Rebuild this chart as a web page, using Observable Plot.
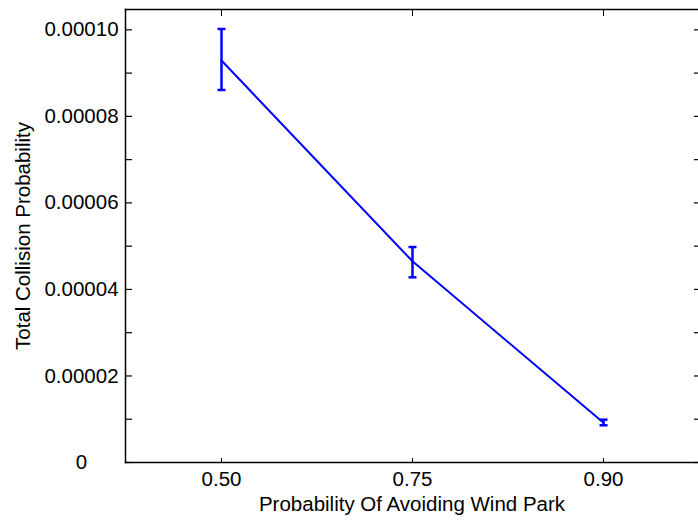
<!DOCTYPE html>
<html>
<head>
<meta charset="utf-8">
<script src="https://cdn.jsdelivr.net/npm/d3@7"></script>
<script src="https://cdn.jsdelivr.net/npm/@observablehq/plot@0.6"></script>
<style>
  html, body { margin: 0; padding: 0; background: #fff; }
  #chart svg { display: block; }
</style>
</head>
<body>
<div id="chart"></div>
<script>
// Categories (x) and series values
const avoid = ["0.50", "0.75", "0.90"];
const meanProb = [9.29e-5, 4.65e-5, 9.2e-6];
const lowerProb = [8.61e-5, 4.28e-5, 8.6e-6];
const upperProb = [1.002e-4, 4.98e-5, 9.9e-6];

// Tick values and labels
const yMajorTicks = [0, 2e-5, 4e-5, 6e-5, 8e-5, 1e-4];
const yTickLabels = ["0", "0.00002", "0.00004", "0.00006", "0.00008", "0.00010"];
const yAllTicks = [0, 1e-5, 2e-5, 3e-5, 4e-5, 5e-5, 6e-5, 7e-5, 8e-5, 9e-5, 1e-4];
const yMax = 1.047e-4;

const xTitle = "Probability Of Avoiding Wind Park";
const yTitle = "Total Collision Probability";

const data = avoid.map((a, i) => ({a, m: meanProb[i], lo: lowerProb[i], hi: upperProb[i]}));

const blue = "#0000ff";
const font = "'Liberation Sans', Arial, Helvetica, sans-serif";
const fs = 20.5;

// horizontal cap symbol for the error bars
const capSymbol = {draw(ctx) { ctx.moveTo(-4, 0); ctx.lineTo(4, 0); }};

const chart = Plot.plot({
  width: 698,
  height: 520,
  marginLeft: 125,
  marginRight: 0,
  marginTop: 9,
  marginBottom: 58,
  style: {fontFamily: font, fontSize: fs + "px", background: "#fff", color: "#000"},
  x: {type: "point", domain: avoid, padding: 0.5, label: null, axis: null},
  y: {domain: [0, yMax], label: null, axis: null},
  marks: [
    // frame: left, top, bottom
    Plot.frame({anchor: "left", stroke: "#000", strokeWidth: 1.5}),
    Plot.frame({anchor: "top", stroke: "#000", strokeWidth: 1.5}),
    Plot.frame({anchor: "bottom", stroke: "#000", strokeWidth: 1.5}),
    // y labels
    Plot.axisY(yMajorTicks, {anchor: "left", tickSize: 0, tickPadding: 44, textAnchor: "middle",
      tickFormat: (d) => yTickLabels[yMajorTicks.indexOf(d)], fontSize: fs, label: null}),
    // y inward ticks (left and right)
    Plot.axisY(yAllTicks, {anchor: "left", tickSize: -7, tickFormat: () => "", label: null, strokeWidth: 1.2}),
    Plot.axisY(yAllTicks, {anchor: "right", tickSize: -5, tickFormat: () => "", label: null, strokeWidth: 1.2}),
    // x labels (as text marks positioned by the x scale)
    Plot.text(avoid, {x: (d) => d, frameAnchor: "bottom", dy: 17, lineAnchor: "middle", textAnchor: "middle", fontSize: fs, fill: "#000"}),
    Plot.axisX(avoid, {anchor: "bottom", tickSize: -4, tickFormat: () => "", label: null}),
    Plot.axisX(avoid, {anchor: "top", tickSize: -6, tickFormat: () => "", label: null}),
    // axis titles
    Plot.text([xTitle], {frameAnchor: "bottom", dy: 42, lineAnchor: "middle", textAnchor: "middle", fontSize: fs, fill: "#000"}),
    Plot.text([yTitle], {frameAnchor: "left", dx: -102, rotate: -90, lineAnchor: "middle", textAnchor: "middle", fontSize: fs, fill: "#000"}),
    // series
    Plot.line(data, {x: "a", y: "m", stroke: blue, strokeWidth: 2}),
    Plot.ruleX(data, {x: "a", y1: "lo", y2: "hi", stroke: blue, strokeWidth: 2.5}),
    Plot.dot(data, {x: "a", y: "hi", symbol: capSymbol, fill: "none", stroke: blue, strokeWidth: 2.5}),
    Plot.dot(data, {x: "a", y: "lo", symbol: capSymbol, fill: "none", stroke: blue, strokeWidth: 2.5})
  ]
});
document.getElementById("chart").appendChild(chart);
</script>
</body>
</html>
